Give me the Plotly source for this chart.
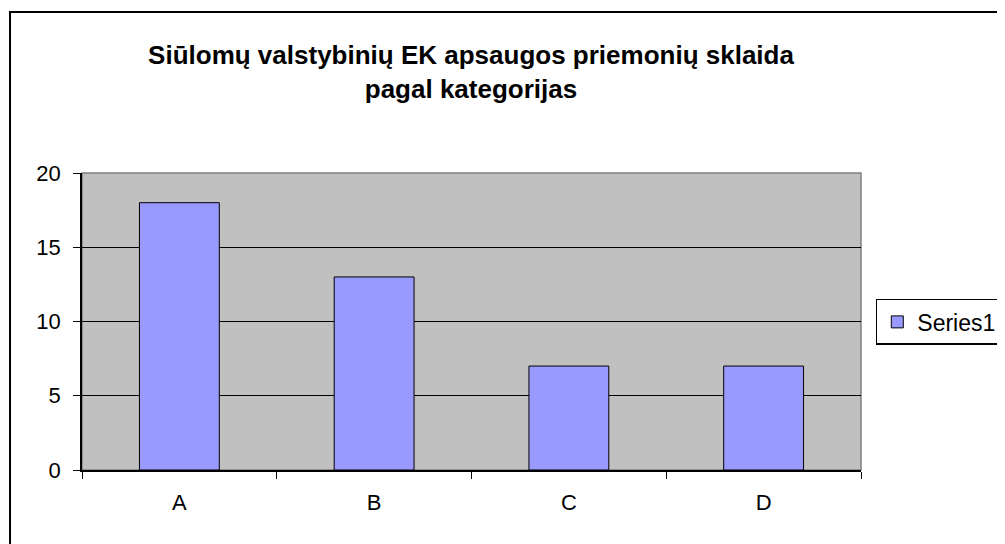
import plotly.graph_objects as go

categories = ["A", "B", "C", "D"]
values = [18, 13, 7, 7]
series_name = "Series1"
title_text = "Siūlomų valstybinių EK apsaugos priemonių sklaida<br>pagal kategorijas"

font_family = "Liberation Sans, Arial, sans-serif"

fig = go.Figure()
fig.add_trace(go.Bar(
    x=categories,
    y=values,
    name=series_name,
    marker=dict(color="#9999FF", line=dict(color="black", width=1)),
    showlegend=True,
))

# gray frame around the plot area (top/right edges)
fig.add_shape(type="rect", xref="paper", yref="paper", x0=0, y0=0, x1=1, y1=1,
              line=dict(color="#808080", width=1.5), layer="below")
# outer chart border
fig.add_shape(type="rect", xref="paper", yref="paper", x0=-0.0924, y0=-0.5, x1=1.3, y1=1.542,
              line=dict(color="black", width=2))

# page has an 8px body margin, so the figure is sized to fit the 1005x544 window
fig.update_layout(
    width=997,
    height=536,
    margin=dict(l=74, r=144, t=165, b=74, autoexpand=False),
    paper_bgcolor="white",
    plot_bgcolor="#C0C0C0",
    font=dict(family=font_family, size=22, color="black"),
    title=dict(
        text=title_text,
        x=463 / 997,
        xanchor="center",
        y=0.895,
        yanchor="top",
        font=dict(family=font_family, size=26, color="black", weight="bold"),
    ),
    bargap=0.59,
    showlegend=True,
    legend=dict(
        x=1.019, y=0.576, xanchor="left", yanchor="top",
        bordercolor="black", borderwidth=1.5,
        font=dict(size=23),
        bgcolor="white",
        itemwidth=30,
    ),
    xaxis=dict(
        showline=True, linecolor="black", linewidth=1.5,
        ticks="outside", tickson="boundaries", ticklen=7, tickcolor="black",
        ticklabelstandoff=12,
        showgrid=False,
    ),
    yaxis=dict(
        range=[0, 20], dtick=5,
        showline=True, linecolor="black", linewidth=1.5,
        ticks="outside", ticklen=7, tickcolor="black",
        ticklabelstandoff=8,
        showgrid=True, gridcolor="black", gridwidth=1.2,
        zeroline=False,
    ),
)

fig.write_html("out.html")
